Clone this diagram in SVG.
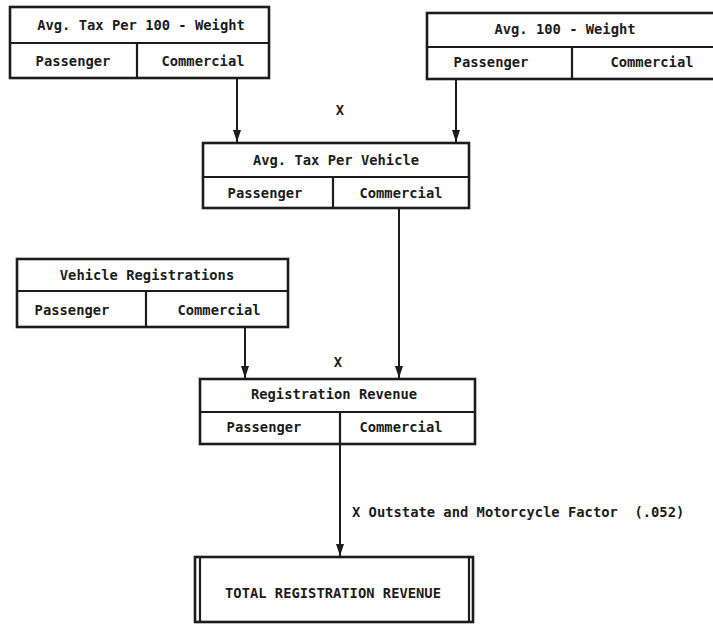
<svg xmlns="http://www.w3.org/2000/svg" width="713" height="624" viewBox="0 0 713 624">
<style>
.b{fill:none;stroke:#1c1c1c;stroke-width:2.6}
.d{fill:none;stroke:#1c1c1c;stroke-width:2.2}
.c{fill:none;stroke:#1c1c1c;stroke-width:2}
text{font-family:"DejaVu Sans Mono","Liberation Mono",monospace;font-weight:bold;font-size:13.8px;fill:#1c1c1c;text-anchor:middle;dominant-baseline:central;white-space:pre}
</style>
<defs>
<marker id="ah" viewBox="0 0 12 8" refX="12" refY="4" markerWidth="12" markerHeight="8" markerUnits="userSpaceOnUse" orient="auto">
<path d="M0,0 L12,4 L0,8 Z" fill="#1c1c1c"/>
</marker>
</defs>
<rect width="713" height="624" fill="#fff"/>
<g id="connectors">
<path class="c" d="M237,78 V142" marker-end="url(#ah)"/>
<path class="c" d="M456,80 V142" marker-end="url(#ah)"/>
<path class="c" d="M399,208 V378" marker-end="url(#ah)"/>
<path class="c" d="M245,327 V378" marker-end="url(#ah)"/>
<path class="c" d="M340,444 V556" marker-end="url(#ah)"/>
<text x="340" y="110">X</text>
<text x="338" y="362">X</text>
<text x="352" y="512" style="text-anchor:start" xml:space="preserve">X Outstate and Motorcycle Factor  (.052)</text>
</g>
<g id="avg-tax-per-100-weight">
<rect class="b" x="10" y="7" width="259" height="71"/>
<line class="d" x1="10" y1="43" x2="269" y2="43"/>
<line class="d" x1="137" y1="43" x2="137" y2="78"/>
<text x="141" y="25">Avg. Tax Per 100 - Weight</text>
<text x="73" y="61">Passenger</text>
<text x="203" y="61">Commercial</text>
</g>
<g id="avg-100-weight">
<rect class="b" x="427" y="13" width="300" height="66"/>
<line class="d" x1="427" y1="47" x2="727" y2="47"/>
<line class="d" x1="572" y1="47" x2="572" y2="79"/>
<text x="565" y="29">Avg. 100 - Weight</text>
<text x="491" y="62">Passenger</text>
<text x="652" y="62">Commercial</text>
</g>
<g id="avg-tax-per-vehicle">
<rect class="b" x="203" y="143" width="266" height="65"/>
<line class="d" x1="203" y1="177" x2="469" y2="177"/>
<line class="d" x1="333" y1="177" x2="333" y2="208"/>
<text x="336" y="160">Avg. Tax Per Vehicle</text>
<text x="265" y="193">Passenger</text>
<text x="401" y="193">Commercial</text>
</g>
<g id="vehicle-registrations">
<rect class="b" x="17" y="259" width="271" height="68"/>
<line class="d" x1="17" y1="291" x2="288" y2="291"/>
<line class="d" x1="146" y1="291" x2="146" y2="327"/>
<text x="147" y="275">Vehicle Registrations</text>
<text x="72" y="310">Passenger</text>
<text x="219" y="310">Commercial</text>
</g>
<g id="registration-revenue">
<rect class="b" x="200" y="379" width="275" height="65"/>
<line class="d" x1="200" y1="412" x2="475" y2="412"/>
<line class="d" x1="340" y1="412" x2="340" y2="444"/>
<text x="334" y="394">Registration Revenue</text>
<text x="264" y="427">Passenger</text>
<text x="401" y="427">Commercial</text>
</g>
<g id="total-registration-revenue">
<rect class="b" x="195" y="557" width="278" height="65"/>
<line class="d" x1="200" y1="557" x2="200" y2="622"/>
<line class="d" x1="469" y1="557" x2="469" y2="622"/>
<text x="333" y="593">TOTAL REGISTRATION REVENUE</text>
</g>
</svg>
